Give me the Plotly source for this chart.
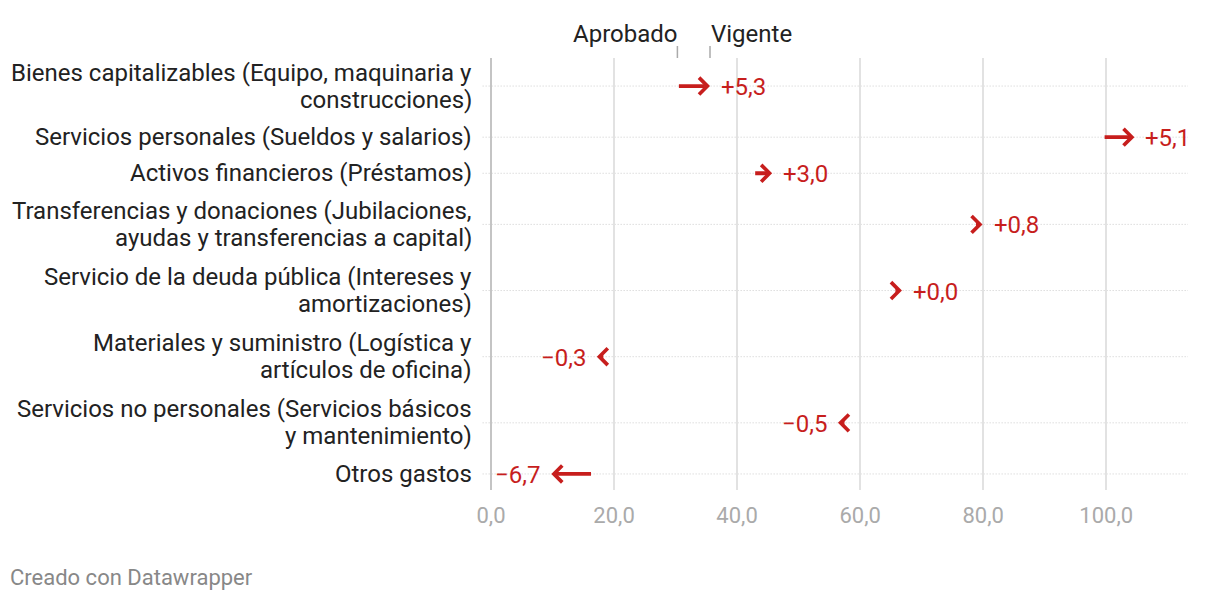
import plotly.graph_objects as go

# ---- data ----
categories = [
    "Bienes capitalizables (Equipo, maquinaria y<br>construcciones)",
    "Servicios personales (Sueldos y salarios)",
    "Activos financieros (Préstamos)",
    "Transferencias y donaciones (Jubilaciones,<br>ayudas y transferencias a capital)",
    "Servicio de la deuda pública (Intereses y<br>amortizaciones)",
    "Materiales y suministro (Logística y<br>artículos de oficina)",
    "Servicios no personales (Servicios básicos<br>y mantenimiento)",
    "Otros gastos",
]
aprobado = [30.3, 99.5, 42.7, 79.1, 66.8, 17.5, 56.9, 16.5]
vigente = [35.6, 104.6, 45.7, 79.9, 66.8, 17.2, 56.4, 9.8]
x_ticks = [0, 20, 40, 60, 80, 100]

RED = "#c71e1d"
FONT = "Roboto"
W, H = 1204, 586           # page has an 8px body margin
ML, MR, MT, MB = 483, 24, 50, 104
LINE = 27                  # label line spacing

# row positions from number of label lines (layout only)
heights = [66 if "<br>" in c else 36 for c in categories]
pos = []
acc = 0
for i, h in enumerate(heights):
    acc = h / 2 if i == 0 else acc + (heights[i - 1] + h) / 2
    pos.append(acc)
y_top = pos[0] - 28
y_bot = pos[-1] + 16


def fmt(d):
    d = round(d, 1)
    s = f"{abs(d):.1f}".replace(".", ",")
    return ("+" if d >= 0 else "\u2212") + s


fig = go.Figure()
fig.add_trace(go.Scatter(x=vigente, y=pos, mode="markers",
                         marker=dict(opacity=0), hoverinfo="skip", showlegend=False))

shapes = []
annotations = []
MIN_LEN = 1.3
for c, a, v, p in zip(categories, aprobado, vigente, pos):
    shapes.append(dict(type="line", xref="paper", x0=-0.012, x1=1, yref="y", y0=p, y1=p,
                       line=dict(color="#cccccc", width=1, dash="1px,2px"), layer="below"))
    # category label lines
    lines = c.split("<br>")
    n = len(lines)
    for j, t in enumerate(lines):
        annotations.append(dict(x=0, y=p, xref="paper", yref="y", text=t, showarrow=False,
                                xanchor="right", yanchor="middle", xshift=-17,
                                yshift=-(j - (n - 1) / 2) * LINE,
                                font=dict(family=FONT, size=24, color="#222222")))
    d = round(v - a, 1)
    direction = 1 if d >= 0 else -1
    tail = a if abs(v - a) >= MIN_LEN else v - direction * MIN_LEN
    annotations.append(dict(x=v, y=p, xref="x", yref="y", ax=tail, ay=p, axref="x", ayref="y",
                            text="", showarrow=True, arrowhead=4, arrowsize=0.85,
                            arrowwidth=3.8, arrowcolor=RED, standoff=0))
    annotations.append(dict(x=v, y=p, xref="x", yref="y", text=fmt(v - a), showarrow=False,
                            xanchor="left" if direction > 0 else "right",
                            xshift=9 * direction, yshift=-1,
                            font=dict(family=FONT, size=24, color=RED)))

# header
annotations.append(dict(x=aprobado[0], y=1, xref="x", yref="paper", text="Aprobado",
                        showarrow=False, xanchor="right", yanchor="bottom", xshift=2, yshift=8,
                        font=dict(family=FONT, size=24, color="#222222")))
annotations.append(dict(x=vigente[0], y=1, xref="x", yref="paper", text="Vigente",
                        showarrow=False, xanchor="left", yanchor="bottom", xshift=-1, yshift=8,
                        font=dict(family=FONT, size=24, color="#222222")))
for xv in (aprobado[0], vigente[0]):
    shapes.append(dict(type="line", xref="x", x0=xv, x1=xv, yref="paper", ysizemode="pixel",
                       yanchor=1, y0=0, y1=12, line=dict(color="#aaaaaa", width=1.5)))

annotations.append(dict(x=0, y=0, xref="paper", yref="paper", text="Creado con Datawrapper",
                        showarrow=False, xanchor="left", yanchor="middle",
                        xshift=-ML, yshift=-87,
                        font=dict(family=FONT, size=22, color="#888888")))

fig.update_layout(
    width=W, height=H,
    margin=dict(l=ML, r=MR, t=MT, b=MB),
    paper_bgcolor="white", plot_bgcolor="white",
    separators=",.",
    showlegend=False,
    shapes=shapes,
    annotations=annotations,
    font=dict(family=FONT, size=24, color="#222222"),
)
fig.update_xaxes(range=[0, 113.3], tickvals=x_ticks, tickformat=".1f",
                 showgrid=True, gridcolor="#e2e2e2", gridwidth=1.5,
                 zeroline=True, zerolinecolor="#c4c4c4", zerolinewidth=2,
                 showline=False, ticks="", ticklabelstandoff=10,
                 tickfont=dict(family=FONT, size=22, color="#aaaaaa"), fixedrange=True)
fig.update_yaxes(range=[y_bot, y_top], showticklabels=False,
                 showgrid=False, zeroline=False, showline=False, ticks="", fixedrange=True)

fig.write_html("out.html")
